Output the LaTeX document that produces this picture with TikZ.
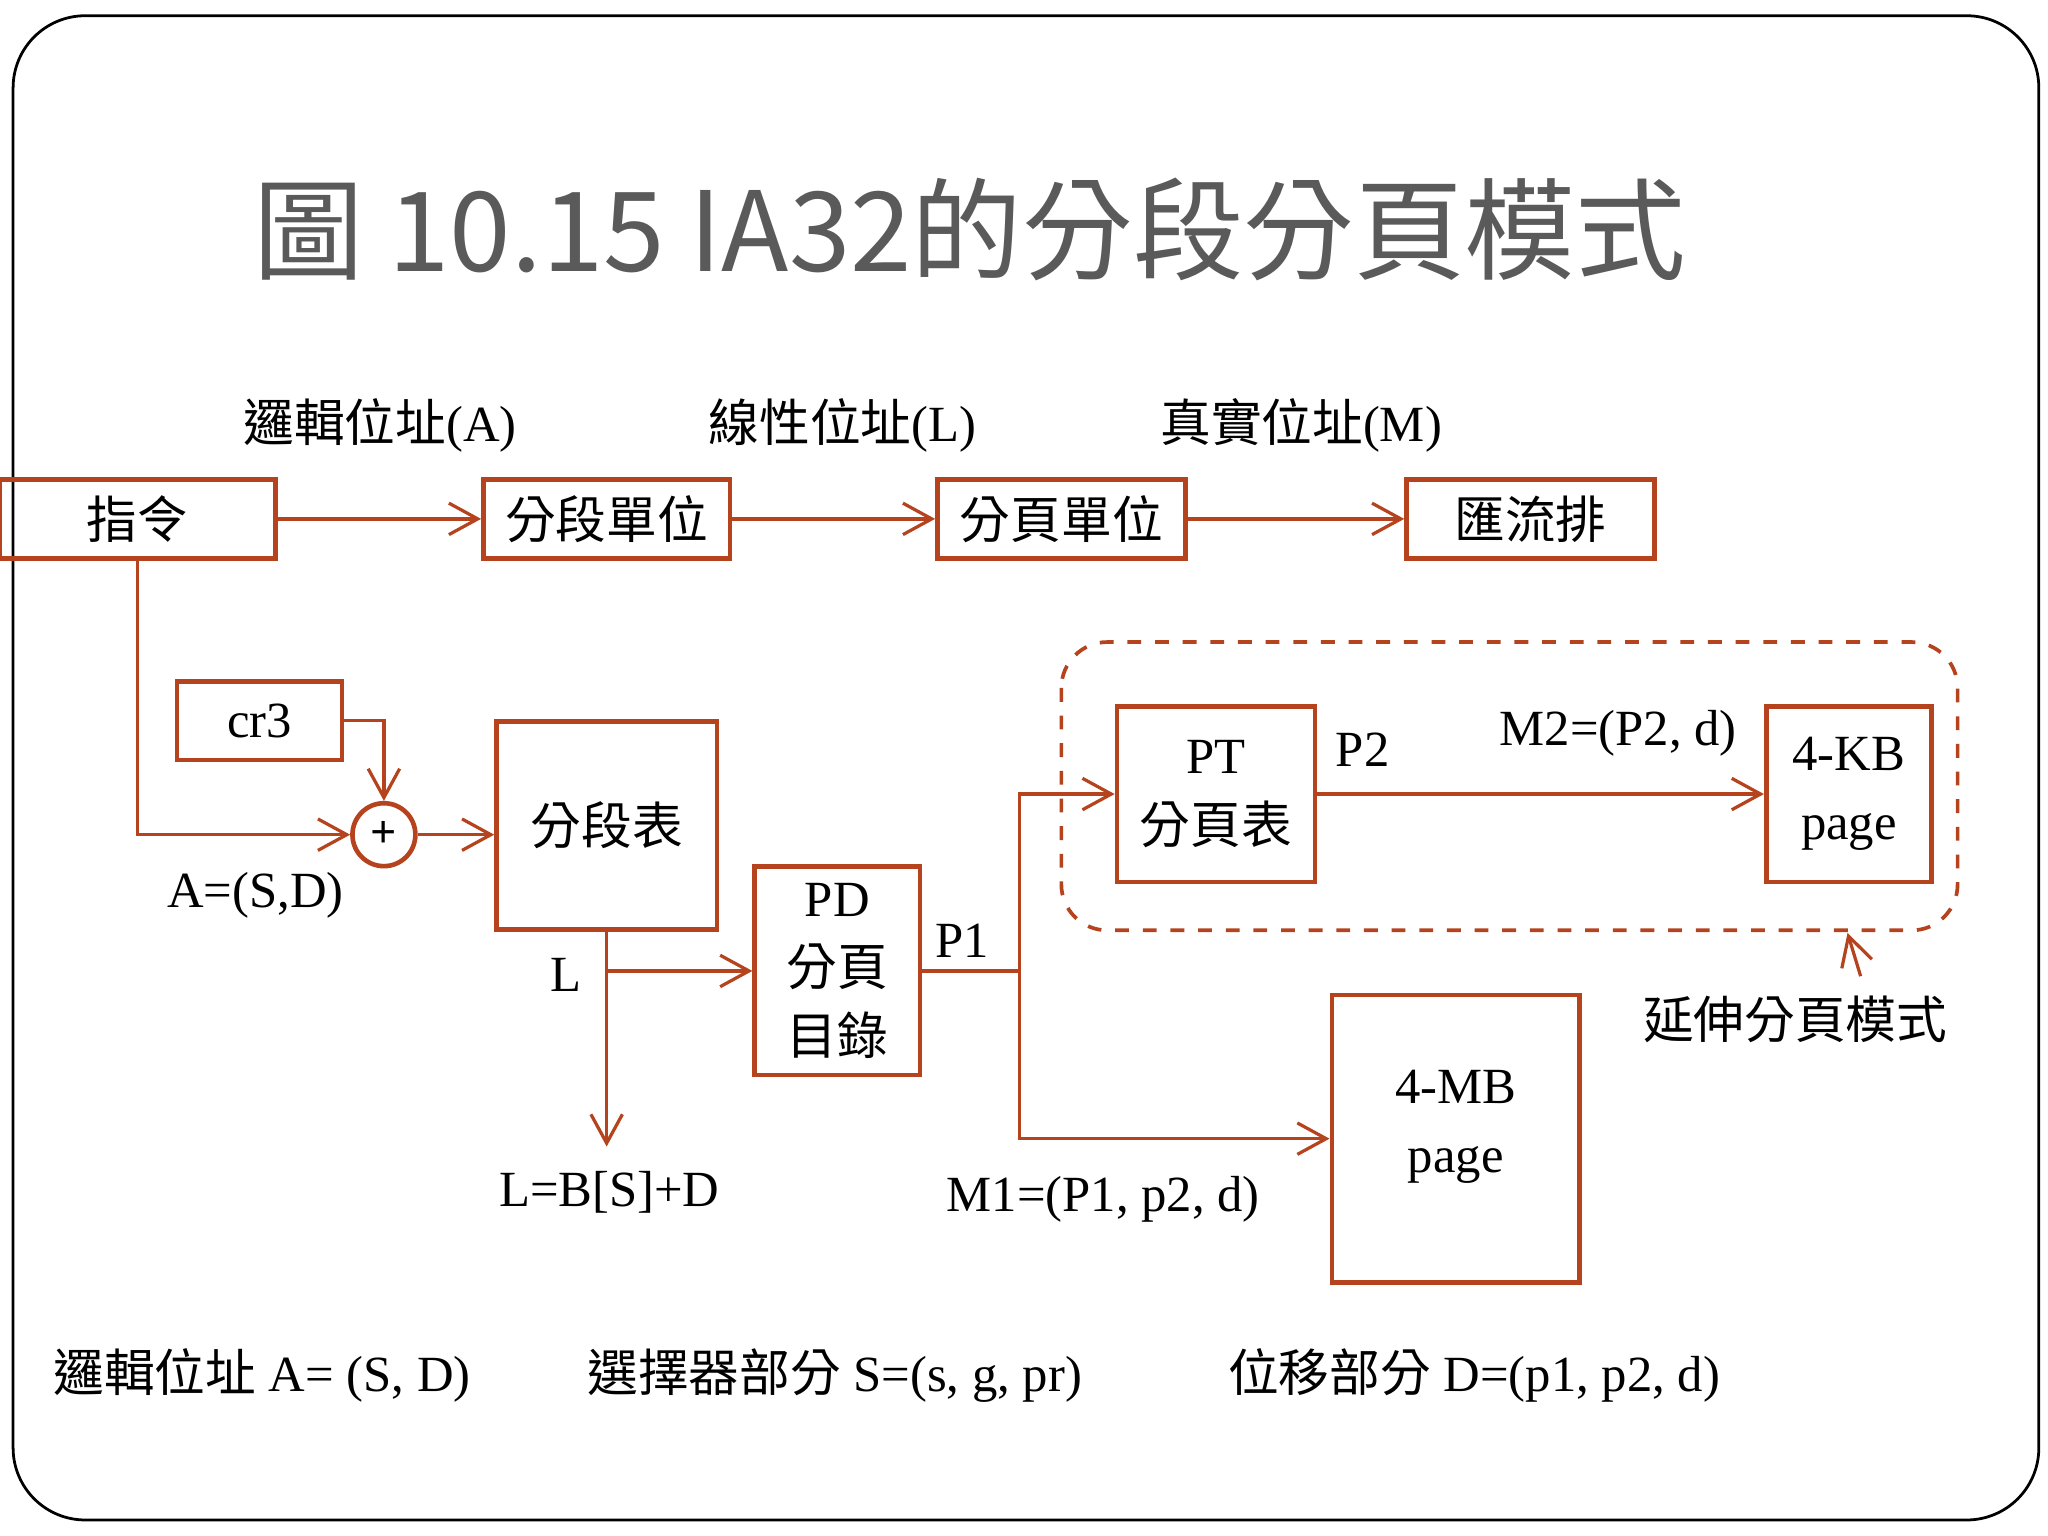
\documentclass[tikz,border=0pt]{standalone}
\usepackage{fontspec}
\setmainfont{Liberation Serif}
\newfontfamily\cjk{Noto Sans CJK TC}
\usetikzlibrary{arrows.meta}
\definecolor{rust}{HTML}{B5431E}
\definecolor{titlegray}{HTML}{5A5A5A}
\begin{document}
\begin{tikzpicture}[x=0.01cm,y=-0.01cm,>={Straight Barb[length=2.2mm,width=2.4mm]},
    line width=0.7pt,
    unit/.style={draw=rust,line width=1pt,inner sep=0pt,font=\fontsize{11}{13}\selectfont},
    lbl/.style={inner sep=0pt,font=\fontsize{11}{13}\selectfont},
    conn/.style={draw=rust,->}]

	\useasboundingbox (0,0) rectangle (1563,1172);
	\draw[line width=0.6pt,rounded corners=0.55cm] (10,12) rectangle (1556,1160);

	\node[lbl,text=titlegray,font=\cjk\fontsize{24}{28}\selectfont] (title) at (740,175) {圖 10.15 IA32的分段分頁模式};

	\node[lbl] (la) at (290,325) {{\cjk 邏輯位址}(A)};
	\node[lbl] (ll) at (643,325) {{\cjk 線性位址}(L)};
	\node[lbl] (lm) at (993,325) {{\cjk 真實位址}(M)};

	\node[unit,minimum width=2.10cm,minimum height=0.60cm] (inst) at (105,396) {\cjk 指令};
	\node[unit,minimum width=1.88cm,minimum height=0.60cm] (segu) at (463,396) {\cjk 分段單位};
	\node[unit,minimum width=1.89cm,minimum height=0.60cm] (pageu) at (810,396) {\cjk 分頁單位};
	\node[unit,minimum width=1.89cm,minimum height=0.60cm] (bus) at (1168,396) {\cjk 匯流排};

	\draw[conn] (inst) -- (segu);
	\draw[conn] (segu) -- (pageu);
	\draw[conn] (pageu) -- (bus);

	\node[unit,minimum width=1.26cm,minimum height=0.60cm] (cr3) at (198,550) {cr3};
	\node[draw=rust,line width=1pt,circle,minimum size=0.48cm,inner sep=0pt] (plus) at (293,637) {\textbf{+}};
	\node[unit,minimum width=1.68cm,minimum height=1.59cm] (segt) at (463,630) {\cjk 分段表};
	\node[unit,minimum width=1.26cm,minimum height=1.59cm,align=center,font=\fontsize{11}{15}\selectfont] (pd) at (639,741) {PD\\{\cjk 分頁}\\{\cjk 目錄}};
	\node[unit,minimum width=1.51cm,minimum height=1.34cm,align=center,font=\fontsize{11}{15}\selectfont] (pt) at (928,606) {PT\\{\cjk 分頁表}};
	\node[unit,minimum width=1.26cm,minimum height=1.34cm,align=center,font=\fontsize{11}{15}\selectfont] (kb) at (1411,606) {4-KB\\page};
	\node[unit,minimum width=1.89cm,minimum height=2.19cm] (mb) at (1111,869) {};
	\node[lbl,align=center,font=\fontsize{11}{15}\selectfont] (mbtext) at (1111,860) {4-MB\\page};

	\coordinate (split) at (463,741);
	\coordinate (fork) at (778,741);

	\draw[conn] (inst.south) |- (plus.west);
	\draw[conn] (cr3.east) -| (plus.north);
	\draw[conn] (plus.east) -- (segt.west |- plus);
	\draw[conn] (segt.south) -- (463,875);
	\draw[conn] (split) -- (pd.west |- split);
	\draw[draw=rust] (pd.east |- fork) -- (fork);
	\draw[conn] (fork) |- (pt.west);
	\draw[conn] (fork) |- (mb.west |- 0,869);
	\draw[conn] (pt.east) -- (kb.west);

	\draw[rust,dashed,line width=0.8pt,rounded corners=0.35cm] (810,490) rectangle (1494,710);
	\node[lbl] (ext) at (1370,778) {\cjk 延伸分頁模式};
	\draw[conn] (1420,745) -- (1410,712);

	\node[lbl] (asd) at (195,683) {A=(S,D)};
	\node[lbl] (lL) at (432,744) {L};
	\node[lbl] (lbs) at (465,910) {L=B[S]+D};
	\node[lbl] (p1) at (734,718) {P1};
	\node[lbl] (p2) at (1040,572) {P2};
	\node[lbl] (m2) at (1235,560) {M2=(P2, d)};
	\node[lbl] (m1) at (842,915) {M1=(P1, p2, d)};

	\node[lbl] (b1) at (200,1050) {{\cjk 邏輯位址} A= (S, D)};
	\node[lbl] (b2) at (637,1050) {{\cjk 選擇器部分} S=(s, g, pr)};
	\node[lbl] (b3) at (1125,1050) {{\cjk 位移部分} D=(p1, p2, d)};

\end{tikzpicture}
\end{document}
